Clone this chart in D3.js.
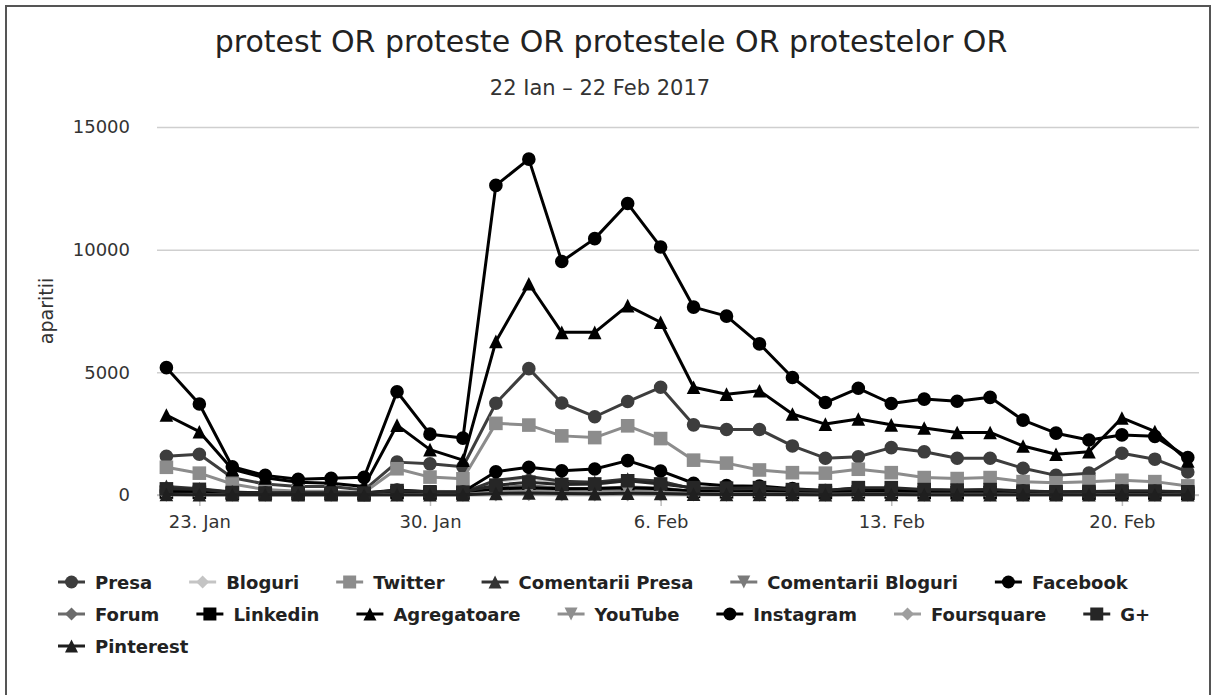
<!DOCTYPE html>
<html><head><meta charset="utf-8">
<script src="https://cdn.jsdelivr.net/npm/d3@7"></script>
<style>
html,body{margin:0;padding:0;background:#fff;}
svg{display:block;font-family:"DejaVu Sans",Verdana,sans-serif;}
</style></head>
<body>
<svg id="chart" width="1214" height="695"></svg>
<script>
// ---- data ----
const dates = ["2017-01-22","2017-01-23","2017-01-24","2017-01-25","2017-01-26","2017-01-27","2017-01-28","2017-01-29","2017-01-30","2017-01-31",
"2017-02-01","2017-02-02","2017-02-03","2017-02-04","2017-02-05","2017-02-06","2017-02-07","2017-02-08","2017-02-09","2017-02-10",
"2017-02-11","2017-02-12","2017-02-13","2017-02-14","2017-02-15","2017-02-16","2017-02-17","2017-02-18","2017-02-19","2017-02-20",
"2017-02-21","2017-02-22"];
const seriesNames = ["Presa","Bloguri","Twitter","Comentarii Presa","Comentarii Bloguri","Facebook","Forum","Linkedin","Agregatoare","YouTube","Instagram","Foursquare","G+","Pinterest"];
const presa = [1580,1660,700,450,350,350,200,1340,1270,1150,3740,5150,3750,3190,3810,4390,2860,2670,2670,2000,1500,1560,1930,1760,1500,1500,1090,800,890,1700,1460,940];
const bloguri = [200,180,100,70,60,60,50,180,150,130,550,700,480,430,600,550,250,220,220,170,140,180,170,150,140,150,120,100,110,160,140,100];
const twitter = [1130,890,450,220,150,150,100,1070,730,660,2920,2850,2410,2340,2820,2300,1420,1300,1020,910,890,1050,910,710,670,710,545,500,545,600,545,370];
const comentariiPresa = [350,250,120,80,60,60,50,150,100,100,600,750,560,520,650,560,250,230,230,160,130,170,180,150,130,150,110,90,100,140,120,90];
const comentariiBloguri = [80,70,40,30,25,25,20,60,50,45,200,260,190,180,230,200,100,90,90,70,60,80,70,60,60,60,50,40,40,60,50,40];
const facebook = [5190,3710,1150,800,640,680,720,4210,2480,2320,12620,13690,9520,10450,11880,10110,7660,7290,6160,4790,3770,4350,3730,3910,3820,3980,3050,2520,2240,2450,2390,1530];
const forum = [100,90,50,40,30,30,30,80,60,60,300,380,280,260,330,290,140,120,130,90,80,100,100,90,80,90,70,60,60,80,70,50];
const linkedin = [120,110,60,50,50,50,50,100,80,80,250,300,250,260,300,250,150,130,140,110,100,130,120,100,90,100,80,70,70,80,80,70];
const agregatoare = [3260,2580,1050,700,520,480,350,2850,1850,1420,6260,8610,6630,6630,7720,7040,4390,4110,4250,3300,2890,3100,2860,2730,2550,2550,2000,1660,1760,3140,2590,1390];
const youtube = [40,35,20,15,15,15,10,30,25,25,120,150,110,100,130,110,60,50,50,40,35,45,40,35,35,35,30,25,25,35,30,25];
const instagram = [150,150,100,80,80,80,80,200,120,120,950,1130,990,1060,1400,980,480,380,360,260,180,280,220,200,180,200,160,120,130,150,150,120];
const foursquare = [5,5,3,2,2,2,2,4,3,3,15,20,12,12,16,14,8,6,6,5,4,5,5,4,4,4,3,3,3,4,3,3];
const gplus = [250,230,100,80,80,80,80,180,130,120,400,520,430,450,580,450,300,280,300,220,180,300,300,220,200,220,160,130,140,160,160,130];
const pinterest = [20,15,10,8,8,8,6,15,12,10,60,80,60,55,70,60,30,25,25,20,15,20,20,15,15,15,12,10,10,15,12,10];
const xTickDates = ["2017-01-23","2017-01-30","2017-02-06","2017-02-13","2017-02-20"];
const xTickLabels = ["23. Jan","30. Jan","6. Feb","13. Feb","20. Feb"];
const yTicks = [0,5000,10000,15000];
const titleText = "protest OR proteste OR protestele OR protestelor OR";
const subtitleText = "22 Ian \u2013 22 Feb 2017";
const yTitle = "aparitii";

// ---- styling (not data) ----
const values = [presa,bloguri,twitter,comentariiPresa,comentariiBloguri,facebook,forum,linkedin,agregatoare,youtube,instagram,foursquare,gplus,pinterest];
const colors = ["#3d3d3d","#c4c4c4","#8c8c8c","#333333","#7a7a7a","#000000","#6b6b6b","#000000","#000000","#8f8f8f","#000000","#9e9e9e","#262626","#1f1f1f"];
const symbols = ["circle","diamond","square","triangle","triangle-down"];

const parse = d3.utcParse("%Y-%m-%d");
const dts = dates.map(parse);
const svg = d3.select("#chart");

const plotL = 157, plotR = 1199, plotT = 127, plotB = 495;
const x = d3.scaleUtc().domain([dts[0], dts[dts.length-1]]).range([166.4, 1187.8]);
const y = d3.scaleLinear().domain([0,15000]).range([plotB, plotT]);

// border
svg.append("rect").attr("x",6).attr("y",6).attr("width",1204).attr("height",720)
  .attr("fill","#fff").attr("stroke","#555").attr("stroke-width",2);

// titles
svg.append("text").attr("x",611).attr("y",52).attr("text-anchor","middle")
  .attr("font-size",30).attr("fill","#222").text(titleText);
svg.append("text").attr("x",600).attr("y",95).attr("text-anchor","middle")
  .attr("font-size",21).attr("fill","#333").text(subtitleText);

// y grid + labels
const yAxis = d3.axisLeft(y).tickValues(yTicks).tickSize(-(plotR-plotL)).tickPadding(27).tickFormat(d3.format("d"));
const gy = svg.append("g").attr("transform",`translate(${plotL},0)`).call(yAxis);
gy.select(".domain").remove();
gy.selectAll(".tick line").attr("stroke","#cfcfcf").attr("stroke-width",1.5);
gy.selectAll(".tick text").attr("font-size",18).attr("fill","#333").attr("font-family","DejaVu Sans");

// x axis
const xAxis = d3.axisBottom(x).tickValues(xTickDates.map(parse)).tickSize(11).tickPadding(9)
  .tickFormat((d,i)=>xTickLabels[i]);
const gx = svg.append("g").attr("transform",`translate(0,${plotB})`).call(xAxis);
gx.select(".domain").attr("d",`M${plotL},0H${plotR}`).attr("stroke","#bdbdbd").attr("stroke-width",1.5);
gx.selectAll(".tick line").attr("stroke","#bdbdbd").attr("stroke-width",1.5);
gx.selectAll(".tick text").attr("font-size",18).attr("fill","#333").attr("font-family","DejaVu Sans");

// y title
svg.append("text").attr("transform","translate(53,311) rotate(-90)").attr("text-anchor","middle")
  .attr("font-size",19).attr("fill","#333").text(yTitle);

function markerPath(type, r){
  switch(type){
    case "circle": return `M${-r},0a${r},${r} 0 1,0 ${2*r},0a${r},${r} 0 1,0 ${-2*r},0Z`;
    case "square": return `M${-r},${-r}H${r}V${r}H${-r}Z`;
    case "diamond": return `M0,${-r}L${r},0L0,${r}L${-r},0Z`;
    case "triangle": return `M0,${-r}L${r},${r}L${-r},${r}Z`;
    case "triangle-down": return `M${-r},${-r}L${r},${-r}L0,${r}Z`;
  }
}

const line = d3.line().x((d,i)=>x(dts[i])).y(d=>y(d));
const plot = svg.append("g");
seriesNames.forEach((name,si)=>{
  const g = plot.append("g");
  g.append("path").datum(values[si]).attr("d",line).attr("fill","none")
    .attr("stroke",colors[si]).attr("stroke-width",3).attr("stroke-linejoin","round");
  const sym = symbols[si % symbols.length];
  g.selectAll("path.m").data(values[si]).join("path").attr("class","m")
    .attr("transform",(d,i)=>`translate(${x(dts[i])},${y(d)})`)
    .attr("d",markerPath(sym, 6.8)).attr("fill",colors[si]);
});

// legend
const leg = svg.append("g");
let lx = 58, ly = 582;
const maxRight = 1200;
seriesNames.forEach((name,si)=>{
  const it = leg.append("g");
  const t = it.append("text").attr("x",37).attr("y",6.5).attr("font-size",18)
    .attr("font-weight","bold").attr("fill","#222").text(name);
  const w = t.node().getComputedTextLength();
  if (lx + 37 + w > maxRight) { lx = 58; ly += 32; }
  it.attr("transform",`translate(${lx},${ly})`);
  it.append("line").attr("x1",0).attr("x2",27).attr("y1",0).attr("y2",0)
    .attr("stroke",colors[si]).attr("stroke-width",3);
  it.append("path").attr("transform","translate(13.5,0)")
    .attr("d",markerPath(symbols[si % symbols.length],6.5)).attr("fill",colors[si]);
  lx += 37 + w + 37;
});
</script>
</body></html>
